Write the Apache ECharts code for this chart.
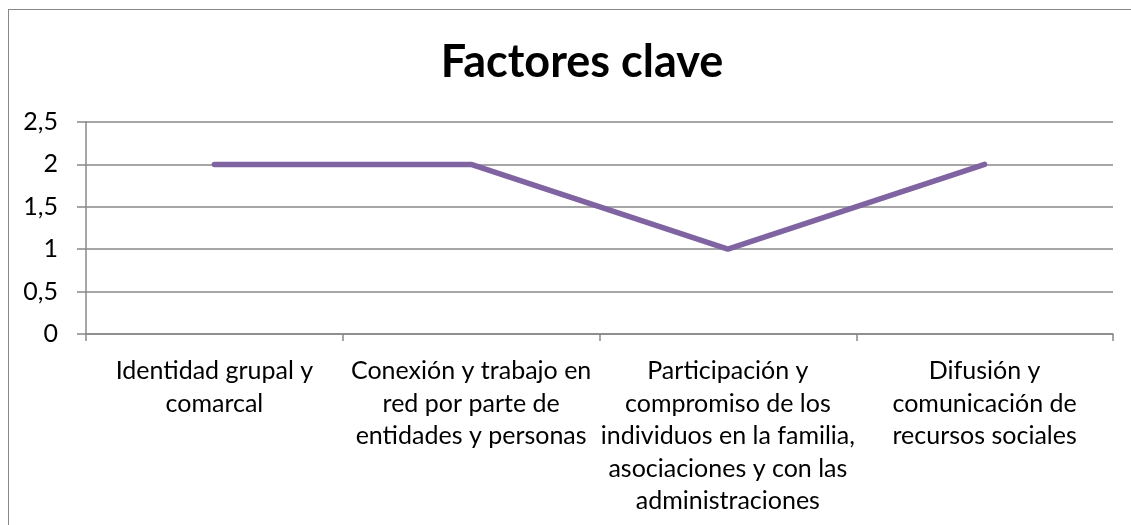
<!DOCTYPE html>
<html>
<head>
<meta charset="utf-8">
<script src="https://cdn.jsdelivr.net/npm/echarts@6/dist/echarts.min.js"></script>
<style>
  html, body { margin: 0; padding: 0; background: #fff; }
  .frame {
    position: absolute; left: 8px; top: 9px; width: 1140px; height: 540px;
    border: 1px solid #888; box-sizing: border-box;
  }
  #chart { position: absolute; left: 0; top: 0; width: 1131px; height: 525px; }
</style>
</head>
<body>
<div class="frame"></div>
<div id="chart"></div>
<script>
const categories = [
  'Identidad grupal y\ncomarcal',
  'Conexión y trabajo en\nred por parte de\nentidades y personas',
  'Participación y\ncompromiso de los\nindividuos en la familia,\nasociaciones y con las\nadministraciones',
  'Difusión y\ncomunicación de\nrecursos sociales'
]
const values = [2, 2, 1, 2]

const axisGray = '#888888'
const font = 'Lato'

const chart = echarts.init(document.getElementById('chart'))
chart.setOption({
  animation: false,
  title: {
    text: 'Factores clave',
    left: 577,
    textAlign: 'center',
    top: 35,
    textStyle: { fontFamily: font, fontSize: 45, fontWeight: 'bold', color: '#000' }
  },
  grid: { left: 86, right: 18, top: 122, bottom: 191, containLabel: false },
  xAxis: {
    type: 'category',
    data: categories,
    boundaryGap: true,
    axisLine: { lineStyle: { color: axisGray, width: 1.5 } },
    axisTick: { show: true, length: 7, lineStyle: { color: axisGray, width: 1.5 } },
    axisLabel: {
      interval: 0,
      margin: 21,
      fontFamily: font,
      fontSize: 25,
      lineHeight: 32.5,
      color: '#000',
      align: 'center'
    }
  },
  yAxis: {
    type: 'value',
    min: 0,
    max: 2.5,
    interval: 0.5,
    axisLine: { show: true, lineStyle: { color: axisGray, width: 1.5 } },
    axisTick: { show: true, length: 9, lineStyle: { color: axisGray, width: 1.5 } },
    splitLine: { lineStyle: { color: axisGray, width: 1.5 } },
    axisLabel: {
      margin: 28,
      fontFamily: font,
      fontSize: 25,
      color: '#000',
      formatter: (v) => String(v).replace('.', ',')
    }
  },
  series: [
    {
      type: 'line',
      data: values,
      showSymbol: false,
      symbol: 'none',
      lineStyle: { color: '#8064A2', width: 5.5, cap: 'round' }
    }
  ]
})
</script>
</body>
</html>
